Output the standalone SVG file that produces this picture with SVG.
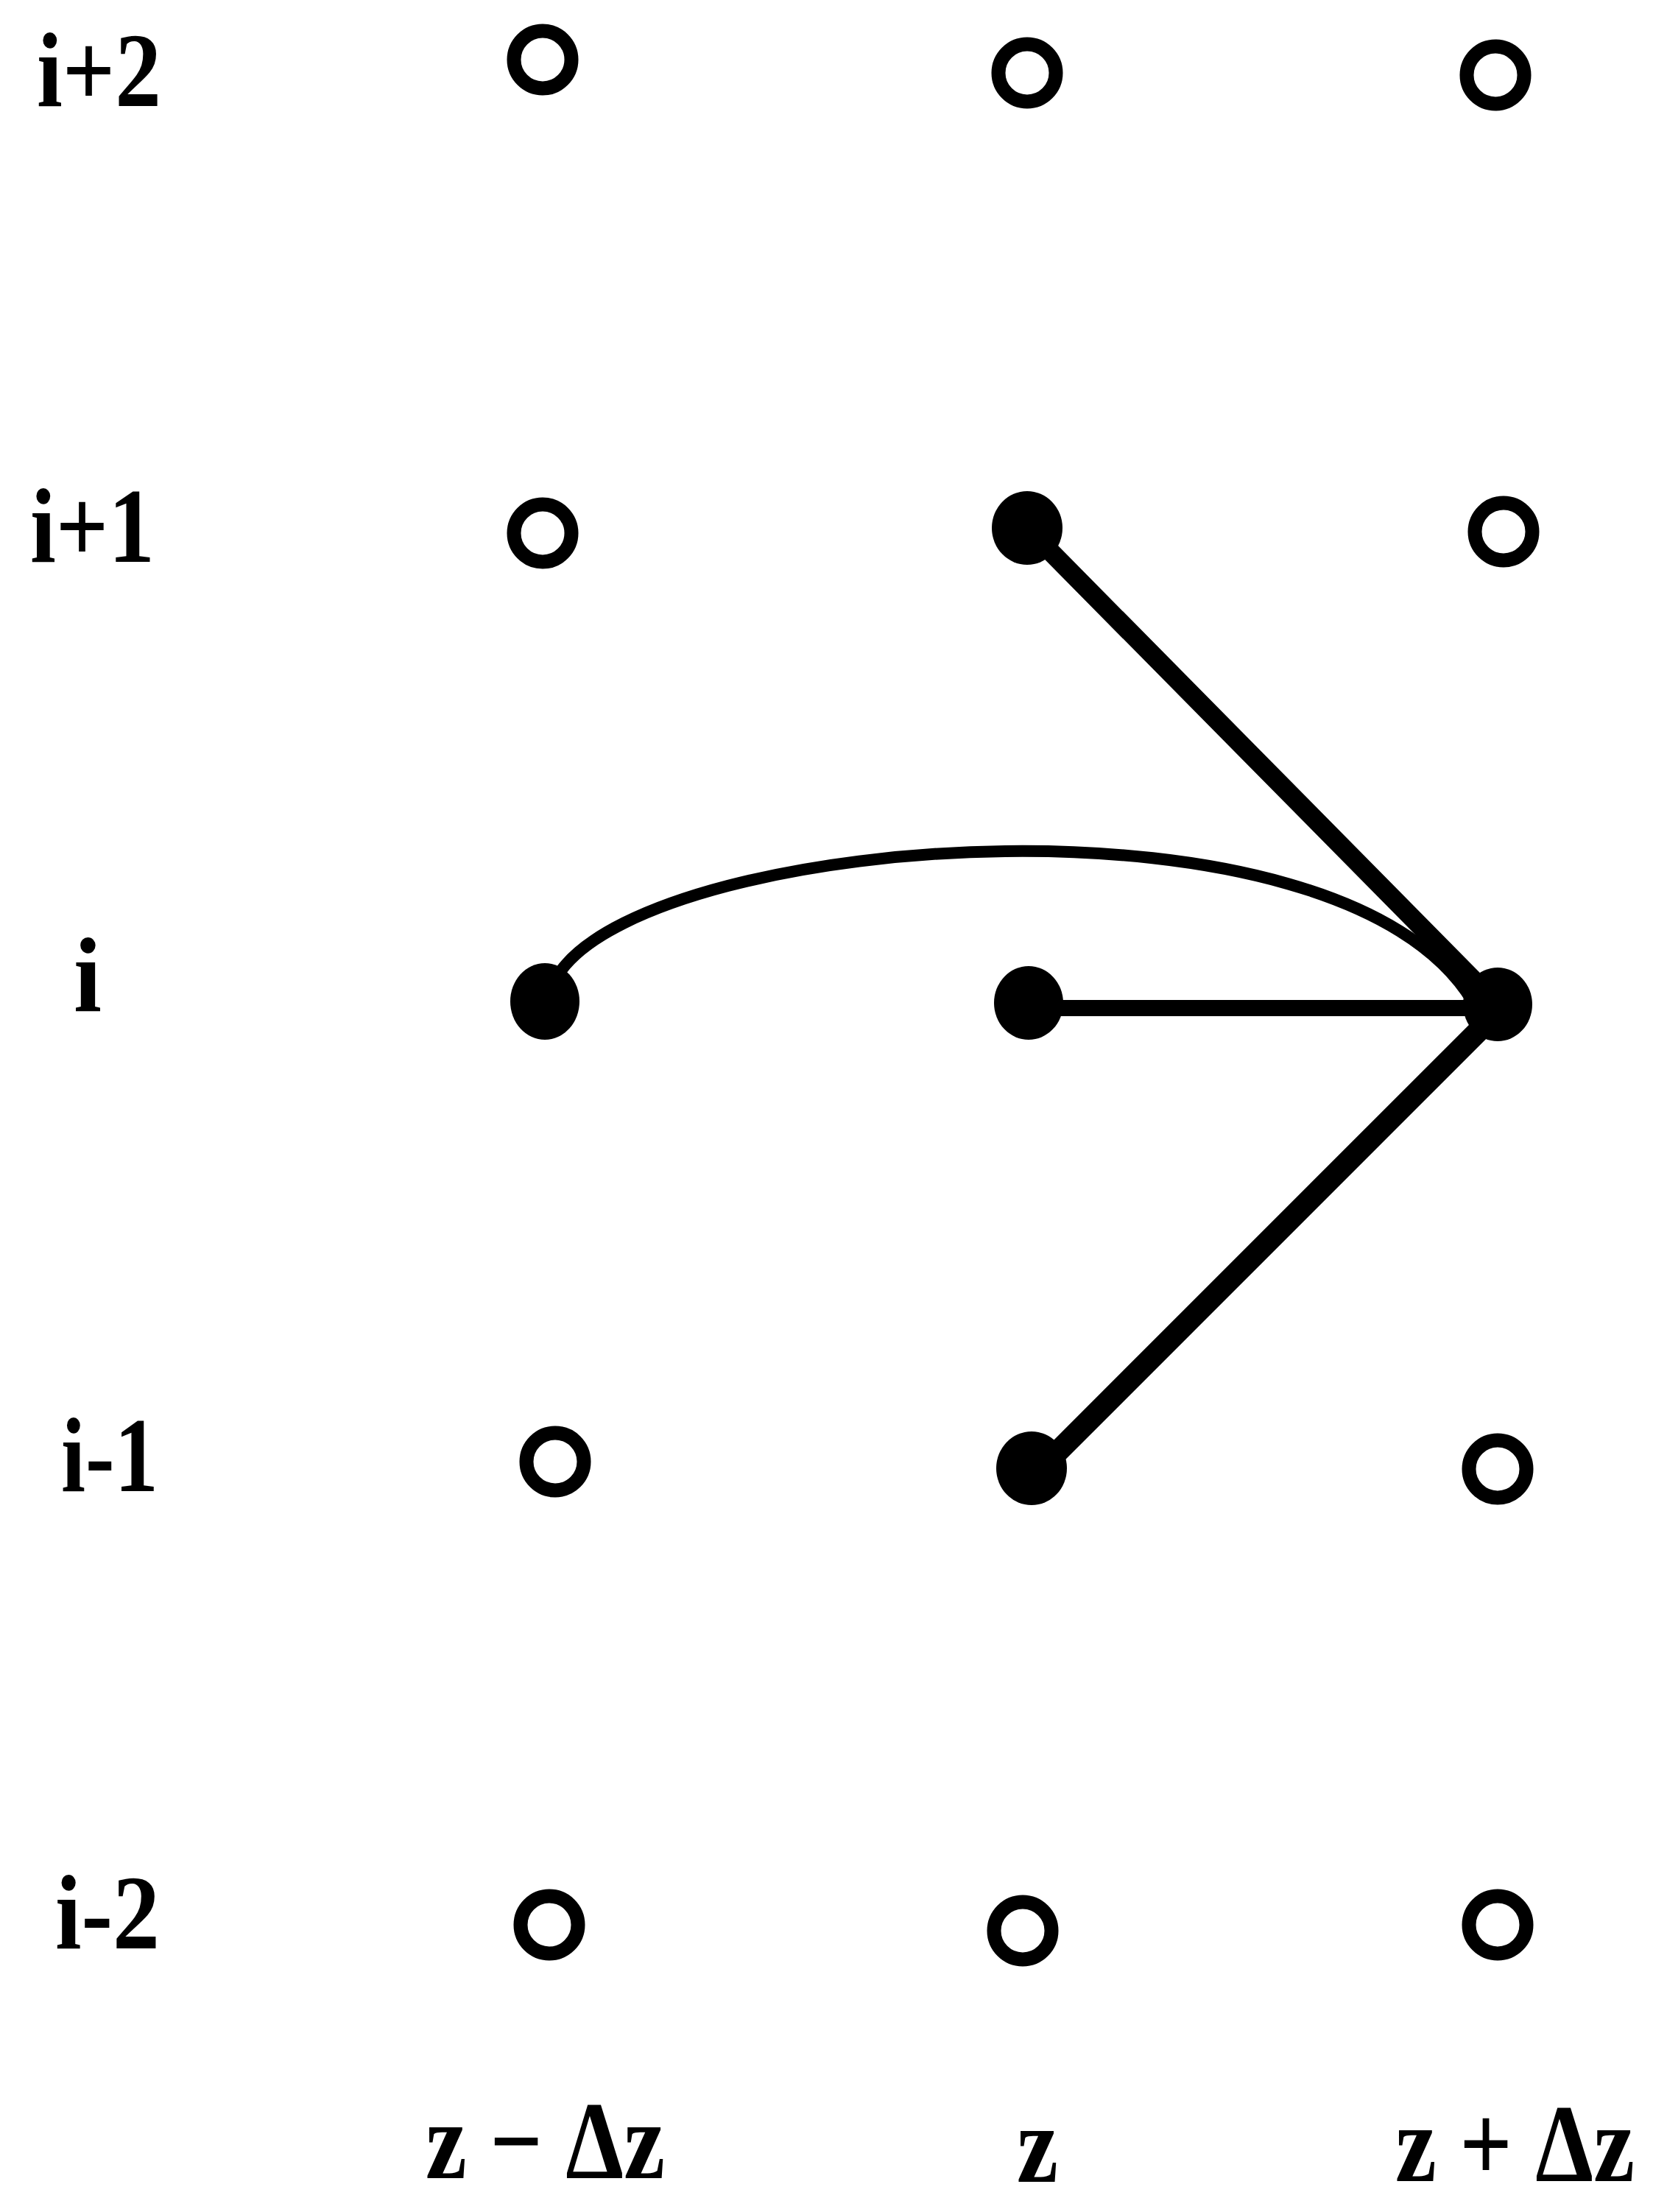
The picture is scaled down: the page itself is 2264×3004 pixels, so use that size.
<svg xmlns="http://www.w3.org/2000/svg" width="2264" height="3004" viewBox="0 0 2264 3004">
<style>
.lbl{font-family:"Liberation Serif","Times New Roman",serif;font-weight:bold;font-size:145px;fill:#000}
.bl{font-family:"Liberation Serif","Times New Roman",serif;font-weight:bold;font-size:150px;fill:#000}
.open{fill:none;stroke:#000;stroke-width:19}
.full{fill:#000;stroke:none}
.edge{fill:none;stroke:#000;stroke-linecap:round}
</style>
<rect width="2264" height="3004" fill="#fff"/>
<g id="row-labels">
<text class="lbl" x="50" y="144" textLength="169" lengthAdjust="spacingAndGlyphs">i+2</text>
<text class="lbl" x="41" y="763" textLength="169" lengthAdjust="spacingAndGlyphs">i+1</text>
<text class="lbl" x="100" y="1373" textLength="38" lengthAdjust="spacingAndGlyphs">i</text>
<text class="lbl" x="83" y="2025" textLength="132" lengthAdjust="spacingAndGlyphs">i-1</text>
<text class="lbl" x="75" y="2646" textLength="142" lengthAdjust="spacingAndGlyphs">i-2</text>
</g>
<g id="col-labels">
<text class="bl" x="578" y="2958" textLength="325" lengthAdjust="spacingAndGlyphs">z − Δz</text>
<text class="bl" x="1381" y="2963" textLength="56" lengthAdjust="spacingAndGlyphs">z</text>
<text class="bl" x="1895" y="2962" font-size="140" textLength="325" lengthAdjust="spacingAndGlyphs">z + Δz</text>
</g>
<g id="connectors">
<path class="edge" stroke-width="16" d="M 762 1318 C 900 1130, 1820 1060, 2000 1360"/>
<line class="edge" stroke-width="26" x1="1395" y1="717" x2="2034" y2="1364"/>
<line class="edge" stroke-width="22" x1="1397" y1="1369" x2="2034" y2="1369"/>
<line class="edge" stroke-width="30" x1="1410" y1="1998" x2="2040" y2="1368"/>
</g>
<g id="n-i2-1"><circle class="open" cx="737" cy="81" r="39"/></g>
<g id="n-i2-2"><circle class="open" cx="1395" cy="99" r="39"/></g>
<g id="n-i2-3"><circle class="open" cx="2031" cy="102" r="39"/></g>
<g id="n-i1-1"><circle class="open" cx="737" cy="724" r="39"/></g>
<g id="n-i1-2"><ellipse class="full" cx="1395" cy="717" rx="48" ry="50"/></g>
<g id="n-i1-3"><circle class="open" cx="2042" cy="722" r="39"/></g>
<g id="n-i-1"><ellipse class="full" cx="740" cy="1360" rx="47" ry="52"/></g>
<g id="n-i-2"><ellipse class="full" cx="1397" cy="1362" rx="47" ry="50"/></g>
<g id="n-i-3"><ellipse class="full" cx="2034" cy="1364" rx="47" ry="50"/></g>
<g id="n-im1-1"><circle class="open" cx="754" cy="1985" r="39"/></g>
<g id="n-im1-2"><ellipse class="full" cx="1401" cy="1994" rx="48" ry="50"/></g>
<g id="n-im1-3"><circle class="open" cx="2034" cy="1995" r="39"/></g>
<g id="n-im2-1"><circle class="open" cx="746" cy="2614" r="39"/></g>
<g id="n-im2-2"><circle class="open" cx="1389" cy="2622" r="39"/></g>
<g id="n-im2-3"><circle class="open" cx="2034" cy="2614" r="39"/></g>
</svg>
